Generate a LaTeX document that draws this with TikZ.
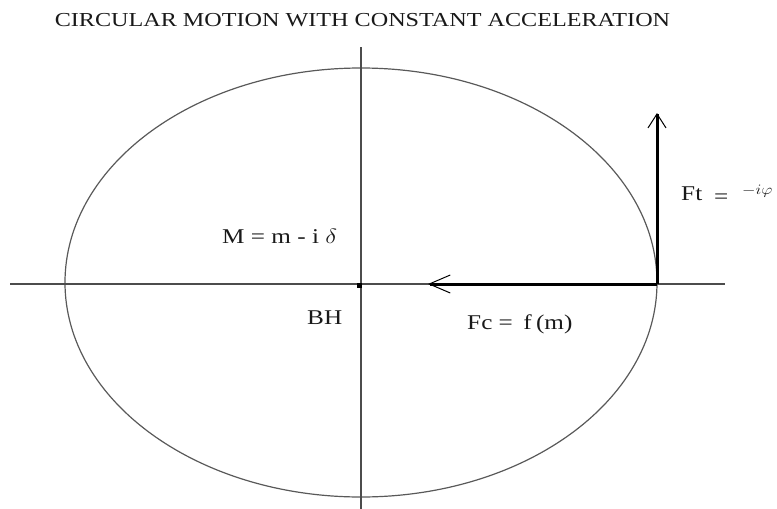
\documentclass[tikz,border=0pt]{standalone}
\usepackage{fontspec}
\setmainfont{Liberation Serif}
\usetikzlibrary{arrows.meta}
\begin{document}
\begin{tikzpicture}[x=1pt,y=-1pt,
  thinline/.style={draw=black!70,line width=1.2pt},
  force/.style={draw=black,line width=3pt},
  lbl/.style={inner sep=0pt,anchor=base west,xscale=1.2,font=\fontsize{21}{24}\selectfont,text=black!90},
  ttl/.style={inner sep=0pt,anchor=base,xscale=1.22,font=\fontsize{19.8}{22}\selectfont,text=black!90}]
\useasboundingbox (0,0) rectangle (777,509);
% title
\node[ttl] (title) at (362.5,26) {CIRCULAR MOTION WITH CONSTANT ACCELERATION};
% ellipse (orbit)
\draw[thinline,draw=black!65] (361,282.5) ellipse [x radius=296, y radius=214.5];
% axes
\coordinate (xl) at (10,284);
\coordinate (xr) at (725,284);
\coordinate (yt) at (361,47);
\coordinate (yb) at (361,509);
\draw[thinline] (xl) -- (xr);
\draw[thinline] (yt) -- (yb);
% black hole dot
\node[fill=black,inner sep=0pt,minimum size=5pt] (bh) at (359,285) {};
% forces
\coordinate (corner) at (657,284);
\coordinate (fctip) at (428,284);
\coordinate (fttip) at (657,113);
\draw[force,-{Straight Barb[length=21pt,width=18pt,line width=1pt]}] (corner) -- (fctip);
\draw[force,-{Straight Barb[length=14pt,width=18pt,line width=1pt]}] (corner) -- (fttip);
% labels
\node[lbl] (mlabel) at (222,243) {M = m - i $\delta$};
\node[lbl] (bhlabel) at (307,324) {BH};
\node[lbl] (fclabel) at (467,329) {Fc =\, f\,(m)};
\node[lbl] (ftlabel) at (681,200) {Ft};
\node[lbl] (fteq) at (714,203) {=};
\node[lbl,font=\fontsize{15}{16}\selectfont] (ftval) at (742,194) {$-i\varphi$};
\end{tikzpicture}
\end{document}
